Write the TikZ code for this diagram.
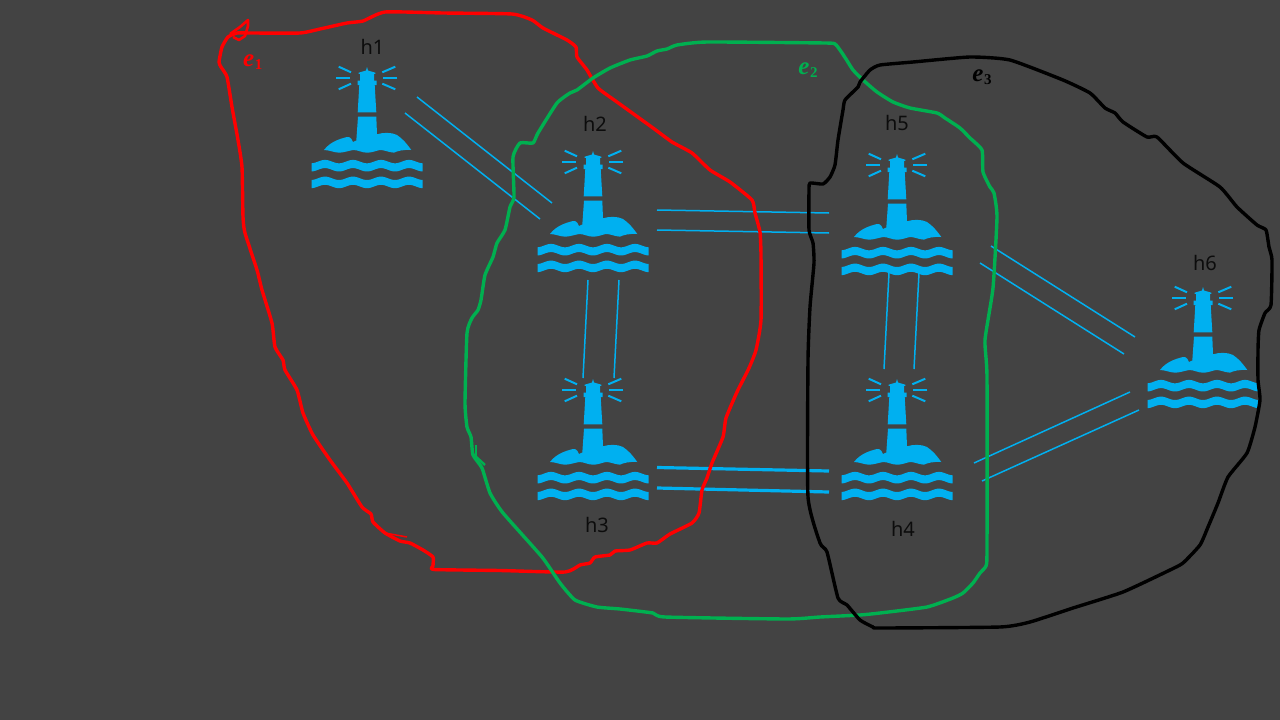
\documentclass[tikz,border=0pt]{standalone}
\usepackage{fontspec}
\setmainfont{Noto Sans}
\newfontfamily\efont{Liberation Serif}
\definecolor{bgc}{HTML}{434343}
\definecolor{sky}{HTML}{00B0F0}
\definecolor{gr}{HTML}{00B050}
\definecolor{lab}{HTML}{0C0C0C}
\newcommand{\wavefill}[1]{%
  \fill[sky] plot[domain=-55.5:55.5,samples=80,smooth] (\x,{#1-4.1+1.7*cos(\x/28*360)})
    -- plot[domain=55.5:-55.5,samples=80,smooth] (\x,{#1+4.1+1.7*cos(\x/28*360)}) -- cycle;}
\newcommand{\esub}[1]{e\kern0.6pt\raisebox{-3.5pt}{\upshape\fontsize{15}{16}\selectfont #1}}
\tikzset{
  linkline/.style={sky,line width=1.5pt},
  thicklink/.style={sky,line width=3.2pt},
  hull/.style={line width=3.4pt,line join=round,line cap=round},
  hostlabel/.style={text=lab,font=\fontsize{20}{22}\selectfont,inner sep=0pt},
  elabel/.style={font=\efont\bfseries\itshape\fontsize{25}{26}\selectfont,inner sep=0pt},
  lighthouse/.pic={
    \fill[sky] (0,0)--(1,3.5)--(8.3,5.7)--(8.3,6.8)--(7,6.8)--(7,13.7)--(9.5,13.7)--(9.5,18)--(7.7,18)--(9.3,45.3)--(-9.3,45.3)--(-7.7,18)--(-9.5,18)--(-9.5,13.7)--(-7,13.7)--(-7,6.8)--(-8.3,6.8)--(-8.3,5.7)--(-1,3.5)--cycle;
    \fill[sky] (-9,49.7)--(9.3,49.7)--(10,67.3)
      .. controls (16,65.5) and (24,65) .. (30,68)
      .. controls (36,72) and (40,77) .. (44.3,83)
      .. controls (36,82.5) and (30,84) .. (27,85.7)
      .. controls (20,85) and (18,83) .. (13,83)
      .. controls (8,84) and (5,85.7) .. (0,85.7)
      .. controls (-5,85.7) and (-9,83) .. (-13.5,83)
      .. controls (-18,83.5) and (-23,85.7) .. (-28,85.7)
      .. controls (-33,85.5) and (-38,83) .. (-43,83)
      .. controls (-37,75) and (-28,72) .. (-20,70)
      .. controls (-16,69.5) and (-15,73) .. (-14,75)
      .. controls (-13,75) and (-12,74) .. (-10.7,73.5)--cycle;
    \wavefill{98.7}
    \wavefill{115.4}
    \begin{scope}[sky,line width=2pt]
      \draw (-28.3,-0.3)--(-16,5.3); \draw (-30.7,11)--(-16.7,11); \draw (-28.3,22.3)--(-16,16.7);
      \draw (28.3,-0.3)--(15.3,5.3); \draw (30.3,11)--(16.3,11); \draw (28.3,22.3)--(15.3,16.7);
    \end{scope}
  }
}
\begin{document}
\begin{tikzpicture}[x=1pt,y=-1pt]
\useasboundingbox (0,0) rectangle (1280,720);
\fill[bgc] (0,0) rectangle (1280,720);
\coordinate (L1) at (367,67);\coordinate (L2) at (593,151);\coordinate (L3) at (593,379);
\coordinate (L4) at (897,379);\coordinate (L5) at (897,154);\coordinate (L6) at (1203,287);
\pic at (L1) {lighthouse};\pic at (L2) {lighthouse};\pic at (L3) {lighthouse};
\pic at (L4) {lighthouse};\pic at (L5) {lighthouse};\pic at (L6) {lighthouse};
\node[hostlabel] (h1) at (372.5,47) {h1};
\node[hostlabel] (h2) at (595,124) {h2};
\node[hostlabel] (h3) at (597,525) {h3};
\node[hostlabel] (h4) at (903,529) {h4};
\node[hostlabel] (h5) at (897,123) {h5};
\node[hostlabel] (h6) at (1205,263) {h6};
\node[elabel,text=red] (e1) at (252.8,62) {\esub{1}};
\node[elabel,text=gr] (e2) at (808,70) {\esub{2}};
\node[elabel,text=black] (e3) at (982,77) {\esub{3}};
% links
\coordinate (a1) at (417,97);\coordinate (a2) at (552,203);\coordinate (a3) at (405,113);\coordinate (a4) at (540,219);
\draw[linkline] (a1)--(a2); \draw[linkline] (a3)--(a4);
\coordinate (b1) at (657,210);\coordinate (b2) at (829,213);\coordinate (b3) at (657,230);\coordinate (b4) at (829,233);
\draw[linkline] (b1)--(b2); \draw[linkline] (b3)--(b4);
\coordinate (c1) at (588,280);\coordinate (c2) at (583,378);\coordinate (c3) at (619,280);\coordinate (c4) at (614,378);
\draw[linkline] (c1)--(c2); \draw[linkline] (c3)--(c4);
\coordinate (d1) at (889,273);\coordinate (d2) at (884,369);\coordinate (d3) at (919,273);\coordinate (d4) at (914,369);
\draw[linkline] (d1)--(d2); \draw[linkline] (d3)--(d4);
\coordinate (f1) at (657,467.5);\coordinate (f2) at (829,471);\coordinate (f3) at (657,488);\coordinate (f4) at (829,492);
\draw[thicklink] (f1)--(f2); \draw[thicklink] (f3)--(f4);
\coordinate (g1) at (991,246);\coordinate (g2) at (1135,337);\coordinate (g3) at (980,263);\coordinate (g4) at (1124,354);
\draw[linkline] (g1)--(g2); \draw[linkline] (g3)--(g4);
\coordinate (k1) at (974,463);\coordinate (k2) at (1130,392);\coordinate (k3) at (982,481);\coordinate (k4) at (1139,410);
\draw[linkline] (k1)--(k2); \draw[linkline] (k3)--(k4);
% hulls
\draw[red,line width=2.6pt,line join=round] (230,34)--(240,27)--(248,20)--(248,26)--(245,36)--(239,40)--(233,37);
\draw[hull,red] plot[smooth cycle,tension=0.3] coordinates {(250,33)(300,33)(320,29)(347,23)(363,21)(385,12)(443,13)(512,14)(532,20)(543,28)(567,40)(576,47)(577,57)(587,70)(598,88)(617,102)(653,128)(672,142)(692,153)(710,170)(730,182)(752,200)(755,213)(760,232)(761,255)(761,320)(756,350)(749,368)(737,392)(726,418)(723,437)(712,463)(707,478)(702,490)(699,513)(692,523)(670,534)(657,543)(647,543)(630,550)(615,551)(610,555)(595,557)(590,563)(580,565)(565,572)(500,570.5)(434,569.5)(433,566)(433,557)(423,550)(410,543)(400,541)(385,533)(373,522)(371,514)(362,507)(347,483)(330,460)(313,435)(303,413)(297,390)(285,370)(283,360)(275,347)(272,323)(262,290)(257,270)(245,233)(243,217)(242,167)(238,140)(232,107)(227,77)(221,67)(219,62)(222,47)(228,37)(237,33)};
\draw[red,line width=1.5pt] (385,533)--(407,537);
\draw[hull,gr] plot[smooth cycle,tension=0.3] coordinates {(473,455)(482,468)(490,493)(503,513)(542,557)(560,583)(575,600)(597,607)(620,609)(653,613)(665,617)(787,619)(820,617)(860,615)(880,613)(927,607)(953,598)(963,593)(973,583)(980,573)(986,566)(987,550)(987,377)(985,340)(993,288)(997,217)(994,193)(990,187)(983,172)(982,150)(970,138)(960,128)(945,118)(937,113)(910,108)(893,102)(877,92)(863,80)(853,70)(846,59)(840,50)(835,44)(825,43)(707,42)(677,45)(667,49)(657,51)(647,56)(630,60)(610,68)(593,78)(577,90)(570,93)(557,103)(538,133)(533,143)(520,143)(513,157)(514,197)(510,207)(505,230)(497,243)(493,257)(485,275)(481,300)(478,310)(472,318)(467,333)(465,403)(467,427)(471,437)};
\draw[gr,line width=2pt] (476,445)--(476,458);
\draw[gr,line width=2.4pt] (473,454)--(485,465);
\draw[hull,black] plot[smooth cycle,tension=0.3] coordinates {(810,183)(823,184)(830,177)(835,165)(838,140)(843,110)(845,100)(858,87)(860,82)(870,70)(880,65)(913,62)(970,57)(1010,60)(1063,80)(1090,93)(1105,108)(1115,113)(1123,122)(1147,137)(1157,137)(1183,163)(1220,187)(1237,207)(1257,225)(1266,230)(1269,247)(1272,260)(1271,305)(1265,313)(1259,330)(1258,350)(1258,380)(1260,400)(1255,427)(1247,453)(1228,477)(1218,503)(1208,527)(1200,545)(1183,563)(1170,570)(1123,592)(1073,608)(1030,622)(1000,627)(880,628)(873,627)(860,620)(847,605)(838,598)(827,552)(820,543)(808,497)(808,360)(810,307)(814,263)(813,243)(809,230)(809,190)};
\end{tikzpicture}
\end{document}
